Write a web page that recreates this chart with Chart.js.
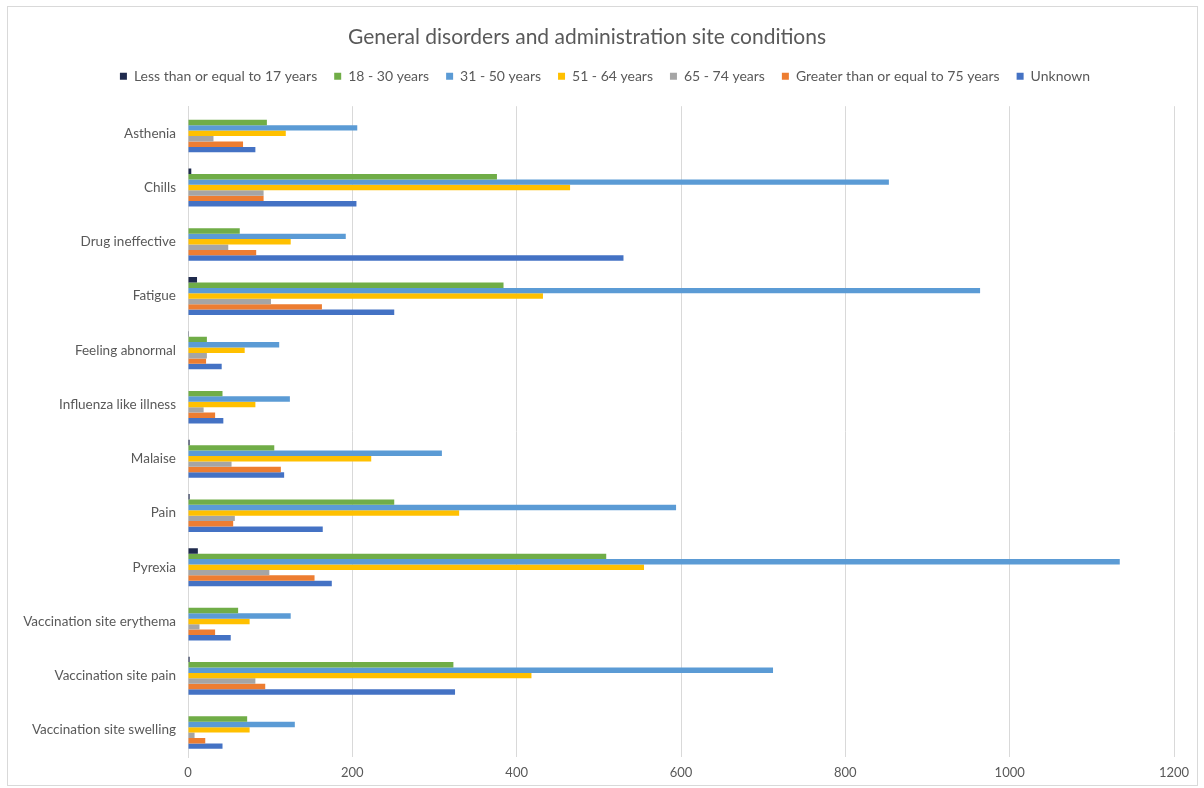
<!DOCTYPE html>
<html>
<head>
<meta charset="utf-8">
<script src="https://cdn.jsdelivr.net/npm/chart.js@4.4.0/dist/chart.umd.min.js"></script>
<style>
  html, body { margin: 0; padding: 0; background: #ffffff; }
  #wrap { position: relative; width: 1204px; height: 788px; }
  #frame { position: absolute; left: 7px; top: 6px; width: 1189px; height: 778px; border: 1px solid #d9d9d9; pointer-events: none; }
</style>
</head>
<body>
<div id="wrap">
  <canvas id="c" width="1204" height="788"></canvas>
  <div id="frame"></div>
</div>
<script>
const title = 'General disorders and administration site conditions';
const categories = ['Asthenia', 'Chills', 'Drug ineffective', 'Fatigue', 'Feeling abnormal', 'Influenza like illness', 'Malaise', 'Pain', 'Pyrexia', 'Vaccination site erythema', 'Vaccination site pain', 'Vaccination site swelling'];
const seriesNames = ['Less than or equal to 17 years', '18 - 30 years', '31 - 50 years', '51 - 64 years', '65 - 74 years', 'Greater than or equal to 75 years', 'Unknown'];
const age17 =    [0, 4, 0, 11, 1, 0, 2, 2, 12, 0, 2, 0];
const age18_30 = [96, 376, 63, 384, 23, 42, 105, 251, 509, 61, 323, 72];
const age31_50 = [206, 853, 192, 964, 111, 124, 309, 594, 1134, 125, 712, 130];
const age51_64 = [119, 465, 125, 432, 69, 82, 223, 330, 555, 75, 418, 75];
const age65_74 = [31, 92, 49, 101, 23, 19, 53, 57, 99, 14, 82, 8];
const age75 =    [67, 92, 83, 163, 22, 33, 113, 55, 154, 33, 94, 21];
const unknown =  [82, 205, 530, 251, 41, 43, 117, 164, 175, 52, 325, 42];
const xTicks = [0, 200, 400, 600, 800, 1000, 1200];

const seriesValues = [age17, age18_30, age31_50, age51_64, age65_74, age75, unknown];
const colors = ['#1f2a4d', '#70ad47', '#5b9bd5', '#ffc000', '#a5a5a5', '#ed7d31', '#4472c4'];

const legendSpacer = {
  id: 'legendSpacer',
  beforeInit(chart) {
    const origFit = chart.legend.fit;
    chart.legend.fit = function () {
      origFit.bind(chart.legend)();
      this.height += 13;
    };
  },
  afterLayout(chart) {
    chart.legend.left += 18;
    chart.legend.right += 18;
  }
};

Chart.defaults.font.family = 'Lato, "Open Sans", sans-serif';
Chart.defaults.color = '#595959';

new Chart(document.getElementById('c'), {
  type: 'bar',
  data: {
    labels: categories,
    datasets: seriesNames.map((n, i) => ({
      label: n,
      data: seriesValues[i],
      backgroundColor: colors[i],
      borderWidth: 0,
      barPercentage: 1.0,
      categoryPercentage: 0.7
    }))
  },
  options: {
    indexAxis: 'y',
    responsive: false,
    animation: false,
    layout: { padding: { top: 25, right: 30, left: 0, bottom: 0 } },
    plugins: {
      title: {
        display: true,
        text: title,
        font: { size: 21, weight: 'normal' },
        color: '#595959',
        padding: { top: 0, bottom: 2 }
      },
      legend: {
        display: true,
        position: 'top',
        labels: {
          boxWidth: 7,
          boxHeight: 7,
          padding: 17,
          font: { size: 14 },
          color: '#595959'
        }
      },
      tooltip: { enabled: false }
    },
    scales: {
      x: {
        min: 0,
        max: 1200,
        afterBuildTicks(scale) { scale.ticks = xTicks.map(v => ({ value: v })); },
        afterFit(scale) { scale.height = 31; },
        ticks: { font: { size: 13 }, color: '#595959', padding: 8, callback: v => String(v) },
        grid: { color: '#d9d9d9', drawTicks: false, lineWidth: 1 },
        border: { display: false }
      },
      y: {
        afterFit(scale) { scale.width = 188; },
        ticks: { font: { size: 13.5 }, color: '#595959', padding: 12 },
        grid: { display: false, drawTicks: false },
        border: { display: true, color: '#d9d9d9' }
      }
    }
  },
  plugins: [legendSpacer]
});
</script>
</body>
</html>
